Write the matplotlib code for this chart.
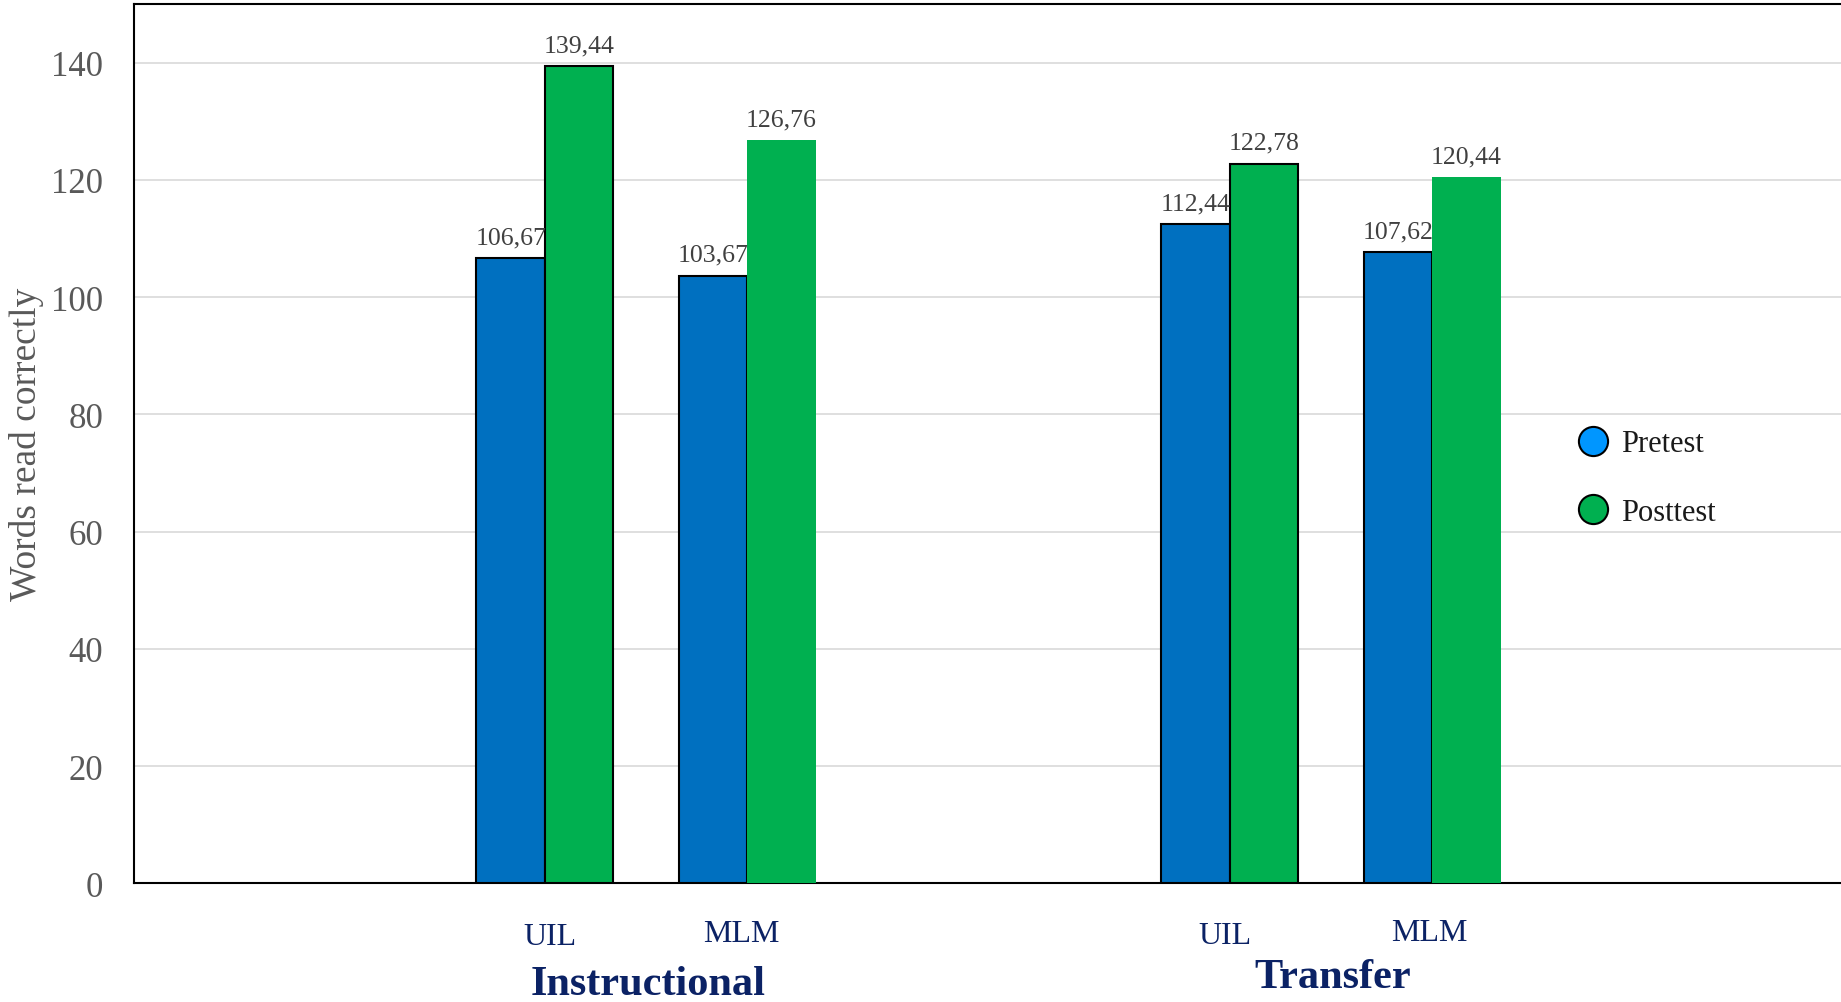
import numpy as np
import matplotlib.pyplot as plt
from matplotlib.lines import Line2D

plt.rcParams['font.family'] = ['Liberation Serif', 'DejaVu Serif']

# data
groups = ['Instructional', 'Transfer']
methods = ['UIL', 'MLM', 'UIL', 'MLM']
pretest = [106.67, 103.67, 112.44, 107.62]
posttest = [139.44, 126.76, 122.78, 120.44]
labels_pre = ['106,67', '103,67', '112,44', '107,62']
labels_post = ['139,44', '126,76', '122,78', '120,44']

pos = np.array([6.0, 8.95, 16.0, 18.95])
w = 1.0
c_pre = '#0070C0'
c_post = '#00B050'
navy = '#0B2265'

fig = plt.figure(figsize=(18.41, 10.03), dpi=100)
ax = fig.add_axes([134/1841, 1 - 884.3/1003, 1707/1841, (884.3 - 5)/1003])

ax.bar(pos - w/2, pretest, w, color=c_pre, edgecolor='black', linewidth=1.5, zorder=3)
# the MLM posttest bars have no outline in the original
post_edges = ['black', 'none', 'black', 'none']
for x, v, ec in zip(pos + w/2, posttest, post_edges):
    ax.bar(x, v, w, color=c_post, edgecolor=ec, linewidth=1.5, zorder=3)

for x, v, s in zip(pos - w/2, pretest, labels_pre):
    ax.annotate(s, (x, v), xytext=(0, 7), textcoords='offset points',
                ha='center', va='bottom', fontsize=18.5, color='#404040', zorder=5)
for x, v, s in zip(pos + w/2, posttest, labels_post):
    ax.annotate(s, (x, v), xytext=(0, 7), textcoords='offset points',
                ha='center', va='bottom', fontsize=18.5, color='#404040', zorder=5)

ax.set_xlim(0, 24.92)
ax.set_ylim(0, 150)
ax.set_yticks(np.arange(0, 141, 20))
ax.yaxis.grid(True, color='#D9D9D9', linewidth=1.2, zorder=0)
ax.set_axisbelow(True)
ax.tick_params(axis='y', length=0, pad=22, labelsize=25, labelcolor='#595959')
ax.set_xticks([])
for sp in ['left', 'bottom', 'top']:
    ax.spines[sp].set_linewidth(1.5)
    ax.spines[sp].set_color('black')
ax.spines['right'].set_visible(False)

# category labels under the axis (small nudges as in the original)
dx = [3.5, -4, -3.5, -2]
dy = [-38.5, -36.5, -37.5, -35.5]
for x, m, ox, oy in zip(pos, methods, dx, dy):
    ax.annotate(m, (x, 0), xycoords=('data', 'axes fraction'), xytext=(ox, oy),
                textcoords='offset points', ha='center', va='center',
                fontsize=23, color=navy)
gy = [-72.5, -67.5]
for i, g in enumerate(groups):
    gx = (pos[2*i] + pos[2*i + 1]) / 2
    ax.annotate(g, (gx, 0), xycoords=('data', 'axes fraction'), xytext=(1.5, gy[i]),
                textcoords='offset points', ha='center', va='center',
                fontsize=30.5, fontweight='bold', color=navy)

fig.text(27/1841, 1 - 444/1003, 'Words read correctly', rotation=90,
         ha='center', va='center', fontsize=27, color='#595959')

handles = [Line2D([], [], linestyle='none', marker='o', markersize=21,
                  markerfacecolor='#0096FF', markeredgecolor='black', markeredgewidth=1.5),
           Line2D([], [], linestyle='none', marker='o', markersize=21,
                  markerfacecolor=c_post, markeredgecolor='black', markeredgewidth=1.5)]
leg = ax.legend(handles, ['Pretest', 'Posttest'], loc='center left',
                bbox_to_anchor=(0.837, 0.4606), frameon=False, fontsize=22,
                borderpad=0, handlelength=1.0, handletextpad=0.4, labelspacing=1.3)
for t in leg.get_texts():
    t.set_color('#1A1A1A')

fig.savefig('out.png', dpi=100)
